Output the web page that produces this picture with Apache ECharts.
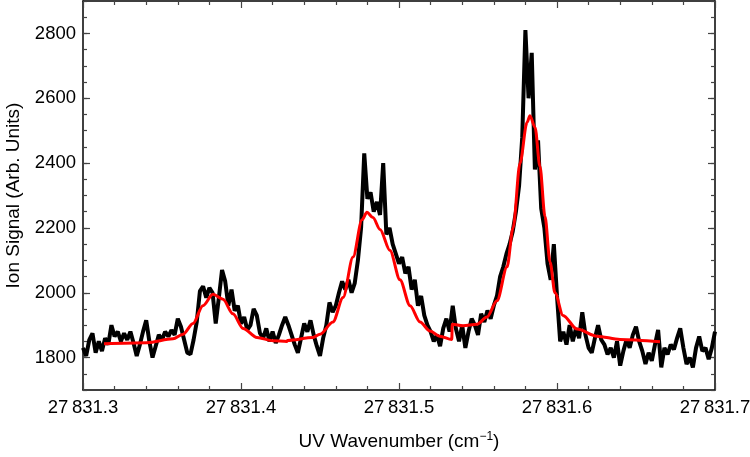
<!DOCTYPE html>
<html>
<head>
<meta charset="utf-8">
<script src="https://cdn.jsdelivr.net/npm/echarts@6/dist/echarts.min.js"></script>
<style>
html,body{margin:0;padding:0;background:#fff;}
#main{width:750px;height:457px;}
</style>
</head>
<body>
<div id="main"></div>
<script>
// measured spectrum, sampled every 0.002 cm-1 from 27831.300
var wnStart = 27831.3;
var wnStep = 0.002;
var signal = [
  1830,1805,1855,1875,1815,1850,1820,1860,1840,1900,
  1865,1880,1850,1875,1855,1880,1845,1805,1840,1880,
  1915,1850,1800,1835,1870,1855,1880,1865,1885,1870,
  1920,1895,1855,1815,1810,1855,1910,2005,2020,1985,
  2015,2000,1905,1985,2070,2035,1960,2010,1945,1960,
  1905,1925,1885,1900,1950,1930,1875,1860,1890,1850,
  1880,1845,1870,1900,1925,1900,1870,1840,1815,1860,
  1905,1880,1915,1870,1835,1805,1860,1900,1970,1940,
  1960,2000,2035,2010,2040,2000,2030,2100,2200,2430,
  2290,2310,2250,2280,2240,2400,2180,2200,2150,2120,
  2090,2110,2060,2080,2010,2040,1960,1990,1930,1900,
  1880,1850,1870,1835,1890,1920,1880,1960,1890,1850,
  1900,1830,1880,1920,1900,1870,1935,1910,1945,1920,
  1960,1990,2050,2080,2120,2150,2190,2250,2330,2480,
  2810,2600,2740,2380,2470,2260,2200,2090,2040,2150,
  1990,1850,1880,1840,1900,1850,1890,1860,1940,1870,
  1830,1815,1860,1900,1855,1840,1810,1830,1800,1850,
  1775,1820,1855,1830,1870,1895,1850,1820,1780,1815,
  1790,1840,1885,1770,1830,1810,1840,1825,1860,1890,
  1830,1780,1800,1770,1830,1865,1820,1830,1795,1830,
  1880
];

// fitted curve
var fitWn = [
  27831.3133,27831.3405,27831.3570,27831.3633,27831.3696,27831.3759,27831.3823,
  27831.3886,27831.3949,27831.4013,27831.4101,27831.4203,27831.4291,27831.4295,
  27831.4456,27831.4500,27831.4582,27831.4646,27831.4709,27831.4766,27831.4797,
  27831.4835,27831.4880,27831.4943,27831.5006,27831.5070,27831.5133,27831.5196,
  27831.5259,27831.5334,27831.5337,27831.5405,27831.5494,27831.5557,27831.5620,
  27831.5684,27831.5722,27831.5766,27831.5810,27831.5829,27831.5861,27831.5892,
  27831.5924,27831.5956,27831.5987,27831.6038,27831.6127,27831.6253,27831.6399,
  27831.6652
];
var fitVal = [
  1843,1846,1858,1872,1905,1960,1995,
  1980,1935,1890,1862,1852,1850,1853,
  1862,1872,1910,1985,2110,2225,2248,
  2232,2195,2130,2040,1960,1910,1882,
  1866,1856,1903,1898,1903,1925,1975,
  2080,2200,2400,2525,2546,2510,2390,
  2235,2095,2000,1930,1888,1866,1856,
  1849
];

var yMajor = [1800, 2000, 2200, 2400, 2600, 2800];

var signalData = [];
for (var i = 0; i < signal.length; i++) {
  signalData.push([wnStart + i * wnStep, signal[i]]);
}
var fitData = [];
for (var j = 0; j < fitWn.length; j++) {
  fitData.push([fitWn[j], fitVal[j]]);
}

var font = 'Liberation Sans, Arial, sans-serif';
var lineSt = {show: true, lineStyle: {color: '#000', width: 1.5}};

function xAxisCfg(pos, labels) {
  return {
    type: 'value', position: pos, min: 27831.3, max: 27831.7, interval: 0.1,
    axisLine: lineSt,
    axisTick: {show: true, inside: true, length: 7, lineStyle: {color: '#444', width: 1.2}},
    minorTick: {show: true, splitNumber: 5, length: 4, lineStyle: {color: '#444', width: 1.2}},
    splitLine: {show: false},
    axisLabel: labels ? {
      show: true, fontSize: 18.5, fontFamily: font, color: '#000', margin: 8,
      formatter: function (v) {
        var s = v.toFixed(1);
        return s.slice(0, 2) + '\u2009' + s.slice(2);
      }
    } : {show: false}
  };
}

function yAxisCfg(pos, labels, major) {
  var a = {
    type: 'value', position: pos, min: 1700, max: 2900, interval: 50,
    axisLine: major ? {show: false} : lineSt,
    splitLine: {show: false},
    axisLabel: {show: false},
    axisTick: {show: true, inside: true, length: 4, lineStyle: {color: '#444', width: 1.2}}
  };
  if (major) {
    a.axisTick = {show: true, inside: true, length: 7, customValues: yMajor,
      lineStyle: {color: '#444', width: 1.2}};
  }
  if (labels) {
    a.axisLabel = {
      show: true, fontSize: 18.5, fontFamily: font, color: '#000', margin: 7,
      formatter: function (v) { return v % 200 === 0 ? String(v) : ''; }
    };
  }
  return a;
}

var myChart = echarts.init(document.getElementById('main'));
var xBottom = xAxisCfg('bottom', true);
xBottom.name = 'UV Wavenumber (cm{sup|\u22121})';
xBottom.nameLocation = 'middle';
xBottom.nameGap = 41;
xBottom.nameTextStyle = {fontSize: 19, fontFamily: font, color: '#000',
  rich: {sup: {fontSize: 12, fontFamily: font, color: '#000', verticalAlign: 'top', padding: [0, 0, 9, 0]}}};

var yLeft = yAxisCfg('left', true, false);
yLeft.name = 'Ion Signal (Arb. Units)';
yLeft.nameLocation = 'middle';
yLeft.nameGap = 60;
yLeft.nameTextStyle = {fontSize: 19, fontFamily: font, color: '#000'};

var option = {
  animation: false,
  backgroundColor: '#fff',
  grid: {left: 83, right: 35, top: 1, bottom: 67, containLabel: false, outerBoundsMode: 'none'},
  xAxis: [xBottom, xAxisCfg('top', false)],
  yAxis: [
    yLeft,
    yAxisCfg('left', false, true),
    yAxisCfg('right', false, false),
    yAxisCfg('right', false, true)
  ],
  series: [
    {
      name: 'signal', type: 'line', data: signalData, showSymbol: false,
      lineStyle: {color: '#000', width: 4}, clip: true, z: 2
    },
    {
      name: 'fit', type: 'line', data: fitData, showSymbol: false,
      smooth: 0.3, smoothMonotone: 'x',
      lineStyle: {color: '#ff0000', width: 3}, clip: true, z: 3
    }
  ]
};
myChart.setOption(option);
</script>
</body>
</html>
